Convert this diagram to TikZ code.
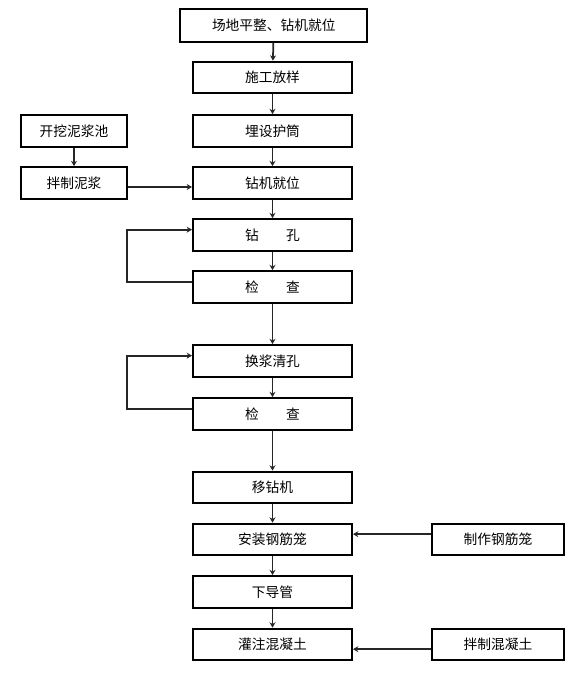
\documentclass[tikz,border=0pt]{standalone}
\usepackage{fontspec}
\setmainfont{Noto Sans CJK SC}
\usetikzlibrary{arrows.meta}
\begin{document}
\begin{tikzpicture}[x=0.75pt, y=-0.75pt,
  box/.style={draw, line width=1.5pt, minimum width=119.25pt, minimum height=23.8pt, inner sep=0pt, font=\fontsize{10.3pt}{12pt}\selectfont},
  flow/.style={line width=1.3pt, -{Stealth[length=4pt, width=4.5pt]}, draw=black!85}]
\useasboundingbox (0,0) rectangle (580,682);
\node[box, minimum width=140.25pt, minimum height=24.75pt] (tid0) at (273.8,25){场地平整、钻机就位};
\node[box] (tid1) at (272.5,77.5){施工放样};
\node[box] (tid2) at (272.5,131){埋设护筒};
\node[box] (tid3) at (272.5,183){钻机就位};
\node[box] (tid4) at (272.5,235){钻　　孔};
\node[box] (tid5) at (272.5,287){检　　查};
\node[box] (tid6) at (272.5,361){换浆清孔};
\node[box] (tid7) at (272.5,414){检　　查};
\node[box] (tid8) at (272.5,487.5){移钻机};
\node[box] (tid9) at (272.5,539.5){安装钢筋笼};
\node[box] (tid10) at (272.5,592){下导管};
\node[box] (tid11) at (272.5,644.5){灌注混凝土};
\node[box, minimum width=80pt] (tid12) at (74,131){开挖泥浆池};
\node[box, minimum width=80pt] (tid13) at (74,183){拌制泥浆};
\node[box, minimum width=99.5pt] (tid14) at (498,539.5){制作钢筋笼};
\node[box, minimum width=99.5pt] (tid15) at (498,644.5){拌制混凝土};
\foreach \a/\b in {tid0/tid1, tid1/tid2, tid2/tid3, tid3/tid4, tid4/tid5, tid5/tid6, tid6/tid7, tid7/tid8, tid8/tid9, tid9/tid10, tid10/tid11, tid12/tid13}
  \draw[flow] (\a) -- (\b);
\draw[flow] ([yshift=-3pt]tid13.east) -- ([yshift=-3pt]tid3.west);
\draw[flow] ([yshift=4pt]tid14.west) -- ([yshift=4pt]tid9.east);
\draw[flow] ([yshift=-3.5pt]tid15.west) -- ([yshift=-3.5pt]tid11.east);
\draw[flow] ([yshift=4pt]tid5.west) -- ++(-49pt,0) |- ([yshift=4pt]tid4.west);
\draw[flow] ([yshift=4pt]tid7.west) -- ++(-49pt,0) |- ([yshift=4pt]tid6.west);
\end{tikzpicture}
\end{document}
